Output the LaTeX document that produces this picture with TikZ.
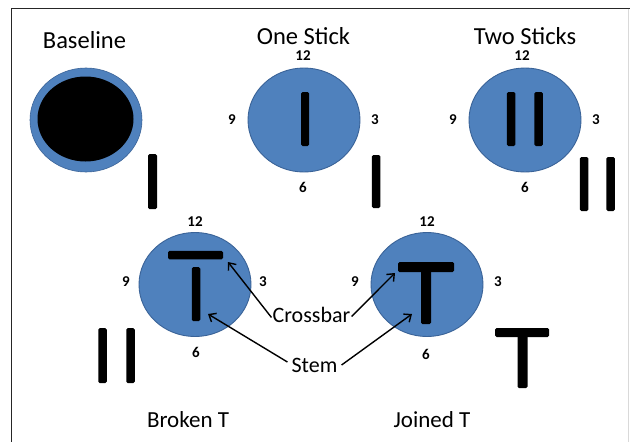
\documentclass[tikz,border=0pt]{standalone}
\usepackage{fontspec}
\setmainfont{Carlito}
\usetikzlibrary{arrows.meta,shapes.geometric}
\definecolor{clockblue}{HTML}{4F81BD}
\definecolor{clockedge}{HTML}{3A6398}
\begin{document}
\begin{tikzpicture}[x=1pt,y=-1pt,
  face/.style={ellipse,draw=clockedge,line width=0.9pt,fill=clockblue,minimum width=112pt,minimum height=104pt,inner sep=0pt},
  stickbar/.style={fill=black,rounded corners=1.5pt,inner sep=0pt},
  title/.style={font=\fontsize{23}{26}\selectfont,text height=15pt,text depth=0pt,inner sep=0pt},
  toptitle/.style={font=\fontsize{24.5}{27}\selectfont,text height=15.5pt,text depth=0pt,inner sep=0pt},
  hour/.style={font=\bfseries\fontsize{15}{17}\selectfont,text height=9.5pt,text depth=0pt,inner sep=0pt},
  partlabel/.style={font=\fontsize{22}{25}\selectfont,text height=14pt,text depth=0pt,inner sep=0pt},
  pointer/.style={line width=1.4pt,-{Straight Barb[length=6pt,width=10pt,line width=1.4pt]}}]
\useasboundingbox (0,0) rectangle (630,442);
\fill[white] (0,0) rectangle (630,442);
% frame
\draw[line width=1.3pt,black!85] (11.5,442) -- (11.5,8.5) -- (630,8.5);
\draw[line width=0.6pt,black!15] (628,8.5) -- (628,442);

% Baseline
\node[toptitle] (tbase) at (84.5,41) {Baseline};
\node[ellipse,fill=clockblue,draw=clockedge,line width=0.6pt,minimum width=112pt,minimum height=104pt,inner sep=0pt] (cbase) at (86,120) {};
\node[ellipse,fill=black,minimum width=96pt,minimum height=85pt,inner sep=0pt] (cbasein) at (85.5,119) {};
\node[stickbar,minimum width=9pt,minimum height=55pt] (sbase) at (152.5,181.5) {};

% One Stick
\node[toptitle] (tone) at (303.5,36.5) {One Stick};
\node[face] (cone) at (304,120) {};
\node[stickbar,minimum width=8pt,minimum height=54pt] (sone) at (305,119) {};
\node[hour] (one12) at (303,55.5) {12};
\node[hour] (one9) at (232,120) {9};
\node[hour] (one3) at (375,120) {3};
\node[hour] (one6) at (303,188) {6};
\node[stickbar,minimum width=8.5pt,minimum height=53pt] (sonex) at (376,181.5) {};

% Two Sticks
\node[toptitle] (ttwo) at (525,36.5) {Two Sticks};
\node[face] (ctwo) at (525,120) {};
\node[stickbar,minimum width=8.5pt,minimum height=54pt] (stwoa) at (511,119) {};
\node[stickbar,minimum width=8.5pt,minimum height=54pt] (stwob) at (538.5,119) {};
\node[hour] (two12) at (522,55.5) {12};
\node[hour] (two9) at (453,120) {9};
\node[hour] (two3) at (596,120) {3};
\node[hour] (two6) at (525,188) {6};
\node[stickbar,minimum width=8.5pt,minimum height=54pt] (stwoxa) at (584,184) {};
\node[stickbar,minimum width=8.5pt,minimum height=54pt] (stwoxb) at (610.5,184) {};

% Broken T
\node[face] (cbrk) at (195,284.5) {};
\node[stickbar,minimum width=55pt,minimum height=8.5pt] (bcross) at (195.5,255) {};
\node[stickbar,minimum width=8.5pt,minimum height=54pt] (bstem) at (196,294) {};
\node[hour] (brk12) at (195,222) {12};
\node[hour] (brk9) at (126,282) {9};
\node[hour] (brk3) at (263,282) {3};
\node[hour] (brk6) at (196,353) {6};
\node[stickbar,minimum width=8.5pt,minimum height=55pt] (bxa) at (102.5,355.5) {};
\node[stickbar,minimum width=8.5pt,minimum height=55pt] (bxb) at (130.5,355.5) {};
\node[title] (tbrk) at (188,420) {Broken T};

% Joined T
\node[face] (cjn) at (427,284.5) {};
\node[stickbar,minimum width=56pt,minimum height=10pt] (jcross) at (426,267) {};
\node[stickbar,minimum width=10pt,minimum height=62pt] (jstem) at (426,293) {};
\node[hour] (jn12) at (427,222) {12};
\node[hour] (jn9) at (355,282) {9};
\node[hour] (jn3) at (498,282) {3};
\node[hour] (jn6) at (426,355) {6};
\node[stickbar,minimum width=54pt,minimum height=9pt] (jxcross) at (522,332.5) {};
\node[stickbar,minimum width=10pt,minimum height=60pt] (jxstem) at (522.5,358) {};
\node[title] (tjn) at (432,420) {Joined T};

% part labels and pointers
\node[partlabel] (lcross) at (311.5,315.5) {Crossbar};
\node[partlabel] (lstem) at (314.5,365) {Stem};
\coordinate (pbc) at (228,262);
\coordinate (pjc) at (395,273);
\coordinate (pbs) at (208,314);
\coordinate (pjs) at (412,314);
\draw[pointer] ([xshift=-1pt,yshift=-2pt]lcross.west) -- (pbc);
\draw[pointer] ([xshift=1pt,yshift=-1pt]lcross.east) -- (pjc);
\draw[pointer] ([xshift=-4pt,yshift=3pt]lstem.west) -- (pbs);
\draw[pointer] ([xshift=4pt,yshift=0pt]lstem.east) -- (pjs);
\end{tikzpicture}
\end{document}
